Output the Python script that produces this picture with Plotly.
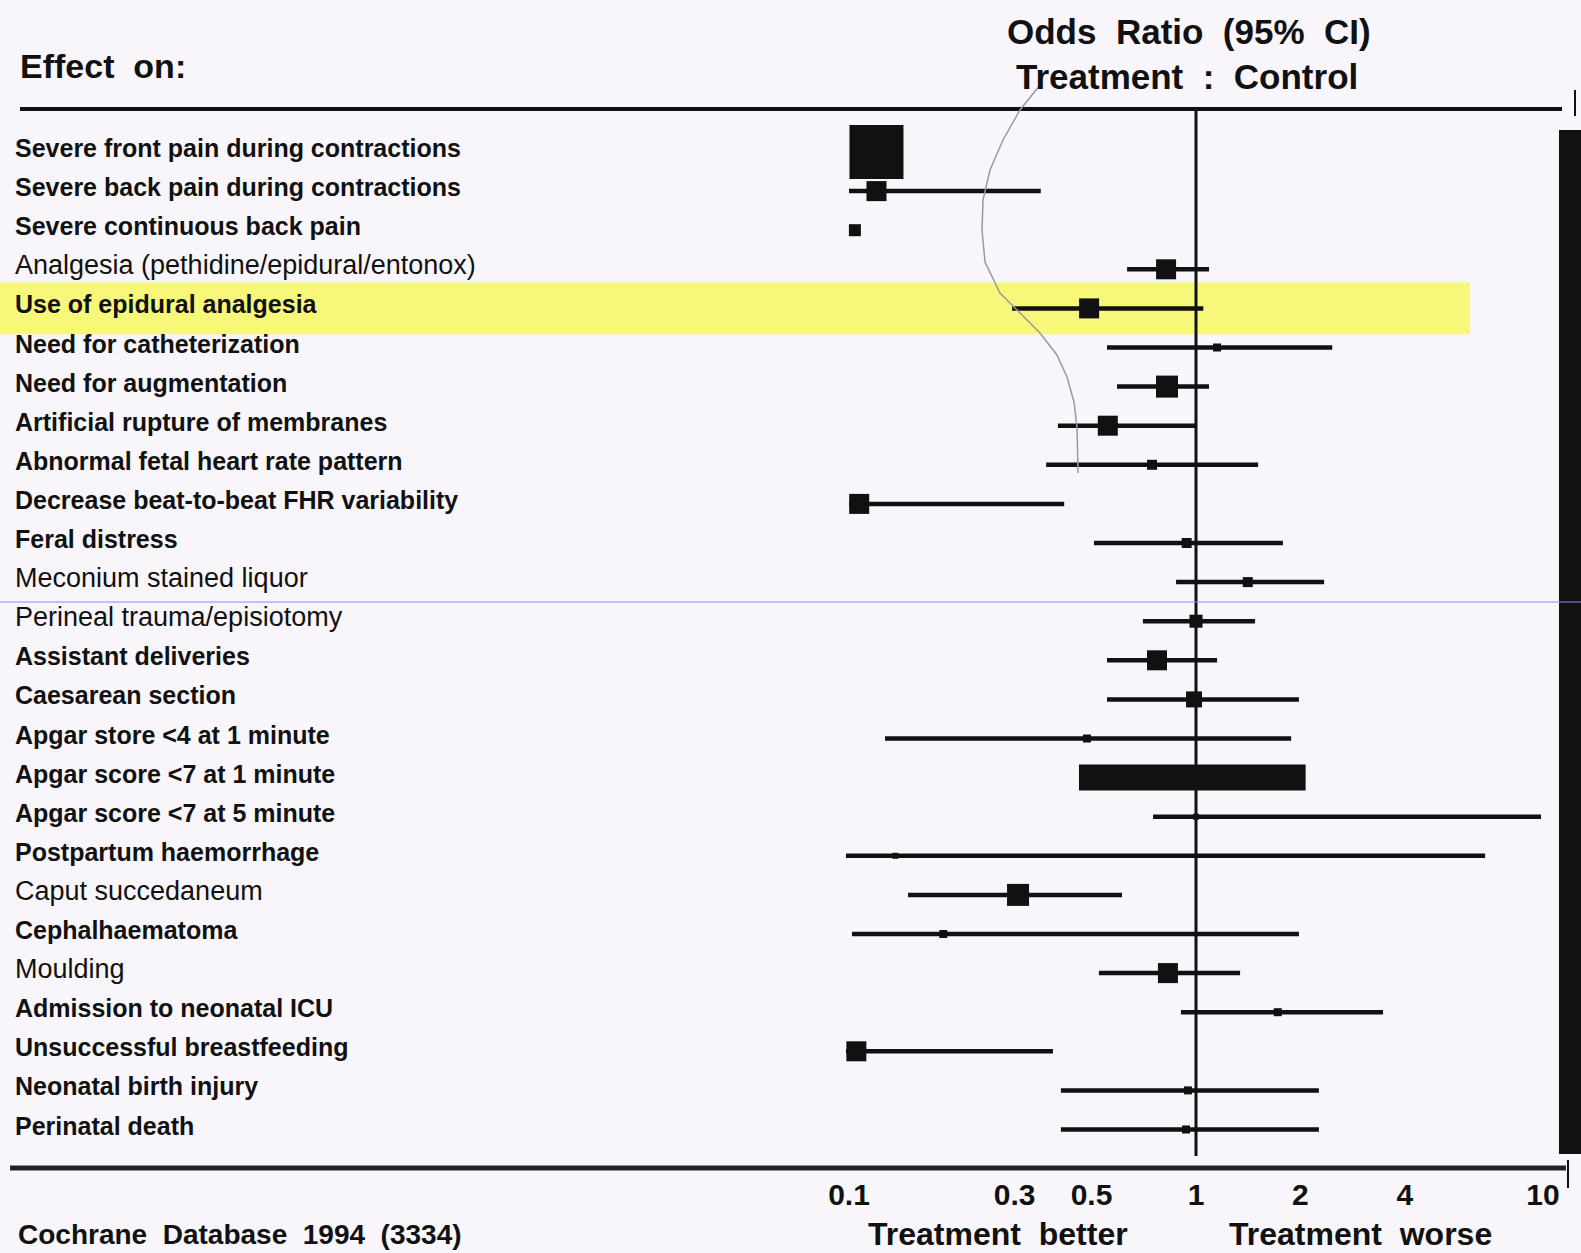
import plotly.graph_objects as go

# ---------------- data ----------------
outcomes = [
    "Severe front pain during contractions",
    "Severe back pain during contractions",
    "Severe continuous back pain",
    "Analgesia (pethidine/epidural/entonox)",
    "Use of epidural analgesia",
    "Need for catheterization",
    "Need for augmentation",
    "Artificial rupture of membranes",
    "Abnormal fetal heart rate pattern",
    "Decrease beat-to-beat FHR variability",
    "Feral distress",
    "Meconium stained liquor",
    "Perineal trauma/episiotomy",
    "Assistant deliveries",
    "Caesarean section",
    "Apgar store <4 at 1 minute",
    "Apgar score <7 at 1 minute",
    "Apgar score <7 at 5 minute",
    "Postpartum haemorrhage",
    "Caput succedaneum",
    "Cephalhaematoma",
    "Moulding",
    "Admission to neonatal ICU",
    "Unsuccessful breastfeeding",
    "Neonatal birth injury",
    "Perinatal death",
]
odds_ratio = [0.120, 0.120, 0.104, 0.82, 0.492, 1.15, 0.825, 0.557, 0.747, 0.107,
              0.94, 1.41, 1.0, 0.772, 0.987, 0.485, 0.727, 1.0, 0.136, 0.307,
              0.187, 0.83, 1.72, 0.105, 0.948, 0.936]
ci_lower = [None, 0.100, None, 0.633, 0.295, 0.554, 0.592, 0.40, 0.37, 0.100,
            0.508, 0.876, 0.703, 0.554, 0.554, 0.127, 0.46, 0.752, 0.098, 0.148,
            0.102, 0.525, 0.905, 0.098, 0.408, 0.408]
ci_upper = [None, 0.357, None, 1.09, 1.05, 2.47, 1.09, 1.0, 1.51, 0.417,
            1.78, 2.34, 1.48, 1.15, 1.98, 1.88, 2.07, 9.87, 6.81, 0.612,
            1.98, 1.34, 3.46, 0.387, 2.26, 2.26]
tick_values = [0.1, 0.3, 0.5, 1, 2, 4, 10]
tick_labels = ["0.1", "0.3", "0.5", "1", "2", "4", "10"]

# ---------------- styling ----------------
W, H = 1581, 1253
PLOT_TOP, PLOT_BOTTOM = 109, 1168
X_ONE, PX_PER_DECADE = 1196, 347
ROW0_PX, ROW_STEP = 152, 39.1
FONT = "Liberation Sans, Arial, sans-serif"
INK = "#111111"
BG = "#f8f6fb"

marker_px = [54, 20, 12, 20, 20, 8, 22, 20, 10, 20, 10, 10, 13, 20, 16, 8, 8, 6,
             6, 22, 8, 20, 8, 20, 8, 8]
regular_rows = {3, 11, 12, 19, 21}
thick_bar_rows = {16}
highlight_rows = {4}

n = len(outcomes)
rows = list(range(n))

def px(x):
    return x / W

def py(y):
    return (PLOT_BOTTOM - y) / (PLOT_BOTTOM - PLOT_TOP)

x_range = [(0 - X_ONE) / PX_PER_DECADE, (W - X_ONE) / PX_PER_DECADE]
y_top = (PLOT_TOP - ROW0_PX) / ROW_STEP
y_bottom = (PLOT_BOTTOM - ROW0_PX) / ROW_STEP

fig = go.Figure()

# confidence interval lines
cx, cy, bx, by = [], [], [], []
for i in rows:
    if ci_lower[i] is None:
        continue
    if i in thick_bar_rows:
        bx += [ci_lower[i], ci_upper[i], None]
        by += [i, i, None]
    else:
        cx += [ci_lower[i], ci_upper[i], None]
        cy += [i, i, None]
fig.add_trace(go.Scatter(x=cx, y=cy, mode="lines",
                         line=dict(color=INK, width=4.5), hoverinfo="skip",
                         showlegend=False))
fig.add_trace(go.Scatter(x=bx, y=by, mode="lines",
                         line=dict(color=INK, width=26), hoverinfo="skip",
                         showlegend=False))
# point estimates
fig.add_trace(go.Scatter(x=odds_ratio, y=rows, mode="markers",
                         marker=dict(symbol="square", size=marker_px, color=INK,
                                     opacity=1, line=dict(width=0)),
                         text=outcomes, showlegend=False))

shapes = []
# highlight band
for i in highlight_rows:
    shapes.append(dict(type="rect", xref="paper", yref="y", x0=0, x1=px(1470),
                       y0=i - 0.66, y1=i + 0.66, fillcolor="#f7f77a",
                       line=dict(width=0), layer="below"))
# top and bottom rules
shapes.append(dict(type="line", xref="paper", yref="paper", x0=px(20), x1=px(1562),
                   y0=1, y1=1, line=dict(color=INK, width=4)))
shapes.append(dict(type="line", xref="paper", yref="paper", x0=px(10), x1=px(1566),
                   y0=0, y1=0, line=dict(color="#222222", width=5)))
# small end ticks
shapes.append(dict(type="line", xref="paper", yref="paper", x0=px(1575), x1=px(1575),
                   y0=py(90), y1=py(116), line=dict(color=INK, width=2)))
shapes.append(dict(type="line", xref="paper", yref="paper", x0=px(1568), x1=px(1568),
                   y0=py(1160), y1=py(1188), line=dict(color=INK, width=2)))
# line of no effect
shapes.append(dict(type="line", xref="x", yref="paper", x0=1, x1=1,
                   y0=py(1156), y1=1, line=dict(color=INK, width=3)))
# right black bar
shapes.append(dict(type="rect", xref="paper", yref="paper", x0=px(1559), x1=1.0,
                   y0=py(1154), y1=py(130), fillcolor=INK, line=dict(width=0)))
# thin blue scan line
shapes.append(dict(type="line", xref="paper", yref="paper", x0=0, x1=1,
                   y0=py(602), y1=py(602), line=dict(color="#8a8af5", width=1)))
# pencil arc
arc = [(1040, 85), (1020, 110), (1003, 140), (990, 170), (983, 200), (982, 230),
       (985, 262), (1000, 293), (1020, 313), (1040, 333), (1057, 355), (1067, 377),
       (1074, 402), (1077, 427), (1078, 473)]
path = "M " + " L ".join(f"{px(x):.5f},{py(y):.5f}" for x, y in arc)
shapes.append(dict(type="path", xref="paper", yref="paper", path=path,
                   line=dict(color="#9a9a9a", width=1.5)))

annotations = []
for i in rows:
    bold = i not in regular_rows
    annotations.append(dict(
        x=px(13), y=i, xref="paper", yref="y", xanchor="left", yanchor="middle",
        text=outcomes[i], showarrow=False, yshift=4,
        font=dict(family=FONT, size=25 if bold else 27, color=INK,
                  weight="bold" if bold else "normal")))

def header(text, x, y, size, anchor="center"):
    annotations.append(dict(x=px(x), y=py(y), xref="paper", yref="paper",
                            xanchor=anchor, yanchor="middle", text=text,
                            showarrow=False,
                            font=dict(family=FONT, size=size, color=INK,
                                      weight="bold")))

header("Effect  on:", 18, 66, 34, "left")
header("Odds  Ratio  (95%  CI)", 1189, 31, 35)
header("Treatment  :  Control", 1187, 76, 35)
header("Cochrane  Database  1994  (3334)", 16, 1234, 28, "left")
header("Treatment  better", 998, 1234, 32)
header("Treatment  worse", 1360, 1234, 32)

fig.update_layout(
    width=W, height=H,
    margin=dict(l=0, r=0, t=PLOT_TOP, b=H - PLOT_BOTTOM),
    paper_bgcolor=BG, plot_bgcolor=BG,
    shapes=shapes, annotations=annotations,
    xaxis=dict(type="log", range=x_range, tickvals=tick_values, ticktext=tick_labels,
               showgrid=False, zeroline=False, showline=False, ticks="",
               ticklabelstandoff=6,
               tickfont=dict(family=FONT, size=30, color=INK, weight="bold")),
    yaxis=dict(range=[y_bottom, y_top], visible=False, showgrid=False),
    showlegend=False,
)

fig.write_html(
    "out.html",
    config={"displayModeBar": False},
    post_script="document.body.style.margin='0px';"
                "document.body.style.overflow='hidden';",
)
